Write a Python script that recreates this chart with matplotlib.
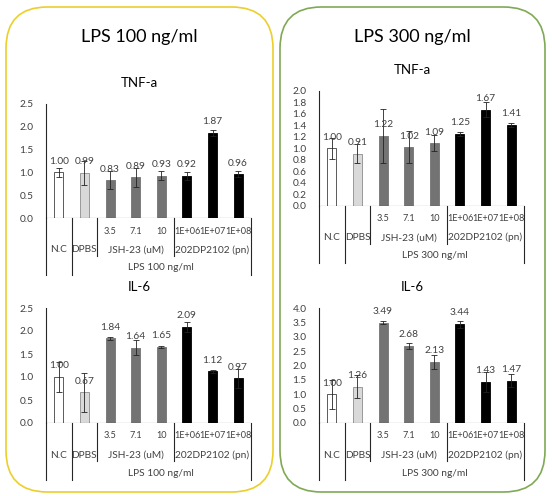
import matplotlib
matplotlib.use("Agg")
import matplotlib.pyplot as plt
from matplotlib.patches import FancyBboxPatch
import matplotlib.transforms as mtransforms

plt.rcParams['font.family'] = ['Lato', 'DejaVu Sans']

W, H = 552, 496
SMALL = 7.3

sub_labels = ['', '', '3.5', '7.1', '10', '1E+06', '1E+07', '1E+08']
group_labels = ['N.C', 'DPBS', 'JSH-23 (uM)', '202DP2102 (pn)']
group_pos = [0, 1, 3, 6]
bar_colors = ['white', '#D9D9D9', '#737373', '#737373', '#737373', 'black', 'black', 'black']
edge_colors = ['#404040', '#8C8C8C', '#737373', '#737373', '#737373', 'black', 'black', 'black']

tnf_100 = [1.00, 0.99, 0.83, 0.89, 0.93, 0.92, 1.87, 0.96]
tnf_100_err = [0.09, 0.26, 0.20, 0.20, 0.09, 0.08, 0.07, 0.06]
il6_100 = [1.00, 0.67, 1.84, 1.64, 1.65, 2.09, 1.12, 0.97]
il6_100_err = [0.33, 0.42, 0.04, 0.17, 0.02, 0.11, 0.04, 0.20]

tnf_300 = [1.00, 0.91, 1.22, 1.02, 1.09, 1.25, 1.67, 1.41]
tnf_300_err = [0.18, 0.16, 0.47, 0.28, 0.14, 0.03, 0.13, 0.03]
il6_300 = [1.00, 1.26, 3.49, 2.68, 2.13, 3.44, 1.43, 1.47]
il6_300_err = [0.50, 0.40, 0.05, 0.12, 0.25, 0.12, 0.35, 0.23]

fig = plt.figure(figsize=(W / 100, H / 100), dpi=100)

# rounded frames
fig.patches.append(FancyBboxPatch((6 / W, 1 - 492 / H), 267 / W, 485 / H,
                                  boxstyle="round,pad=0,rounding_size=0.075",
                                  transform=fig.transFigure, fc='none',
                                  ec='#EBCF2C', lw=1.2, mutation_aspect=W / H))
fig.patches.append(FancyBboxPatch((280 / W, 1 - 492 / H), 265 / W, 485 / H,
                                  boxstyle="round,pad=0,rounding_size=0.075",
                                  transform=fig.transFigure, fc='none',
                                  ec='#7FA955', lw=1.2, mutation_aspect=W / H))

fig.text(139.5 / W, 1 - 37 / H, 'LPS 100 ng/ml', ha='center', va='center', fontsize=13)
fig.text(412.5 / W, 1 - 37 / H, 'LPS 300 ng/ml', ha='center', va='center', fontsize=13)


def draw_chart(box, title, title_xy, vals, errs, ymax, ystep, lps_label):
    l, t, r, b = box
    ax = fig.add_axes([l / W, 1 - b / H, (r - l) / W, (b - t) / H])
    x = list(range(len(vals)))
    ax.bar(x, vals, width=0.35, color=bar_colors, edgecolor=edge_colors, linewidth=0.6, zorder=2)
    ax.errorbar(x, vals, yerr=errs, fmt='none', ecolor='#222222', elinewidth=0.6,
                capsize=2, capthick=0.6, zorder=3)
    for xi, v in zip(x, vals):
        ax.annotate(f'{v:.2f}', (xi, v), xytext=(0, 8), textcoords='offset points',
                    ha='center', va='center', fontsize=SMALL, color='#404040', zorder=4)
    ax.set_xlim(-0.5, 7.5)
    ax.set_ylim(0, ymax)
    n = int(round(ymax / ystep))
    ax.set_yticks([i * ystep for i in range(n + 1)])
    ax.set_yticklabels([f'{i * ystep:.1f}' for i in range(n + 1)])
    ax.tick_params(axis='y', length=0, pad=9, labelsize=SMALL, labelcolor='#404040')
    ax.set_xticks([])
    for s in ['top', 'right', 'bottom']:
        ax.spines[s].set_visible(False)
    ax.spines['left'].set_color('#262626')
    ax.spines['left'].set_linewidth(0.8)
    ax.axhline(0, color='#262626', lw=0.8, zorder=5)

    tr = mtransforms.blended_transform_factory(ax.transData, fig.transFigure)

    def fy(ypx):
        return 1 - ypx / H

    # category table below the axis
    for xv, end in [(-0.5, 57), (0.5, 57), (1.5, 38), (4.5, 38), (7.5, 57)]:
        ax.plot([xv, xv], [fy(b), fy(b + end)], transform=tr, color='#262626',
                lw=0.8, clip_on=False)
    for xi, lab in enumerate(sub_labels):
        ax.text(xi, fy(b + 13), lab, transform=tr, ha='center', va='center',
                fontsize=6.6, color='#404040')
    for xp, lab in zip(group_pos, group_labels):
        ax.text(xp, fy(b + 32), lab, transform=tr, ha='center', va='center',
                fontsize=SMALL, color='#404040')
    ax.text(4, fy(b + 50), lps_label, transform=tr, ha='center', va='center',
            fontsize=SMALL, color='#404040')

    fig.text(title_xy[0] / W, 1 - title_xy[1] / H, title, ha='center', va='center', fontsize=9.5)
    return ax


draw_chart((46, 104, 251, 218), 'TNF-a', (139, 83), tnf_100, tnf_100_err, 2.5, 0.5, 'LPS 100 ng/ml')
draw_chart((46, 308, 251, 423), 'IL-6', (139, 287), il6_100, il6_100_err, 2.5, 0.5, 'LPS 100 ng/ml')
draw_chart((319, 91, 524, 205.7), 'TNF-a', (412, 70), tnf_300, tnf_300_err, 2.0, 0.2, 'LPS 300 ng/ml')
draw_chart((319, 308, 524, 423), 'IL-6', (412, 287), il6_300, il6_300_err, 4.0, 0.5, 'LPS 300 ng/ml')

fig.savefig('out.png', dpi=100)
